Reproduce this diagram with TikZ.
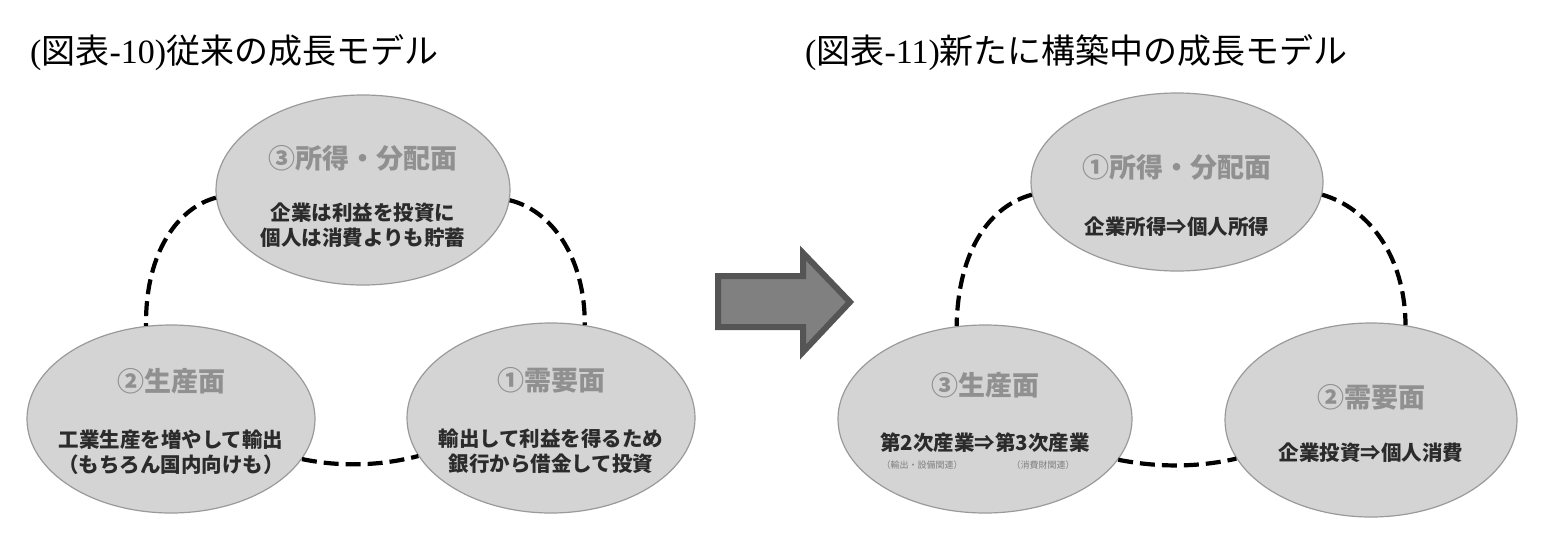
\documentclass[tikz,border=0pt]{standalone}
\usepackage{fontspec}
\setmainfont{Liberation Serif}
\newfontfamily\cjk{Noto Sans CJK JP}
\usetikzlibrary{shapes.geometric}
\definecolor{ellfill}{HTML}{D4D4D4}
\definecolor{elldraw}{HTML}{9A9A9A}
\definecolor{headtxt}{HTML}{909090}
\definecolor{bodytxt}{HTML}{2B2B2B}
\definecolor{arrfill}{HTML}{808080}
\definecolor{arrdraw}{HTML}{555555}
\tikzset{
  bubble/.style={ellipse, fill=ellfill, draw=elldraw, line width=1.2pt, inner sep=0pt},
  headtext/.style={inner sep=0pt, text=headtxt, font=\cjk\bfseries\fontsize{27}{30}\selectfont},
  bodytext/.style={inner sep=0pt, text=bodytxt, align=center, font=\cjk\bfseries\fontsize{20.5}{24.5}\selectfont},
  smalltext/.style={inner sep=0pt, text=gray, font=\cjk\fontsize{9}{10}\selectfont},
  titletext/.style={inner sep=0pt, anchor=west, font=\fontsize{34}{38}\selectfont},
  link/.style={line width=4.2pt, dash pattern=on 15pt off 7pt, black},
}
\begin{document}
\begin{tikzpicture}[x=1pt,y=-1pt]
\useasboundingbox (0,0) rectangle (1542,549);
\fill[white] (0,0) rectangle (1542,549);

% titles
\node[titletext] (title1) at (30,53) {\rmfamily(\cjk 図表\rmfamily-10)\cjk 従来の成長モデル};
\node[titletext] (title2) at (805,53) {\rmfamily(\cjk 図表\rmfamily-11)\cjk 新たに構築中の成長モデル};

% left diagram
\node[bubble, minimum width=294pt, minimum height=190pt] (T) at (363,190) {};
\node[bubble, minimum width=288pt, minimum height=188pt] (L) at (171,419) {};
\node[bubble, minimum width=288pt, minimum height=190pt] (R) at (551,418) {};

\node[headtext] (Th) at (363,158) {③所得・分配面};
\node[bodytext] (Tb) at (363,225) {企業は利益を投資に\\個人は消費よりも貯蓄};
\node[headtext] (Lh) at (171,381) {②生産面};
\node[bodytext] (Lb) at (171,452) {工業生産を増やして輸出\\（もちろん国内向けも）};
\node[headtext] (Rh) at (551,380) {①需要面};
\node[bodytext] (Rb) at (551,451) {輸出して利益を得るため\\銀行から借金して投資};

\draw[link] (T.183) .. controls (180,207) and (145,250) .. (L.105);
\draw[link] (T.356) .. controls (550,210) and (585,255) .. (R.70);
\draw[link] (L.-17) .. controls (340,467) and (380,466) .. (R.196);

% big arrow
\node[inner sep=0pt] (arr) at (785,302) {};
\draw[fill=arrfill, draw=arrdraw, line width=6pt, line join=miter]
  (718,276) -- (803,276) -- (803,253) -- (850,302) -- (803,352) -- (803,327) -- (718,327) -- cycle;

% right diagram
\node[bubble, minimum width=292pt, minimum height=178pt] (T2) at (1177,182) {};
\node[bubble, minimum width=294pt, minimum height=188pt] (L2) at (985,419) {};
\node[bubble, minimum width=292pt, minimum height=194pt] (R2) at (1371,420) {};

\node[headtext] (T2h) at (1177,167) {①所得・分配面};
\node[bodytext] (T2b) at (1177,227) {企業所得⇒個人所得};
\node[headtext] (L2h) at (985,385) {③生産面};
\node[bodytext] (L2b) at (985,443) {第2次産業⇒第3次産業};
\node[smalltext] (L2s1) at (922,465) {（輸出・設備関連）};
\node[smalltext] (L2s2) at (1043,465) {（消費財関連）};
\node[headtext] (R2h) at (1371,397) {②需要面};
\node[bodytext] (R2b) at (1371,453) {企業投資⇒個人消費};

\draw[link] (T2.185) .. controls (990,206) and (958,250) .. (L2.107);
\draw[link] (T2.355) .. controls (1368,208) and (1405,255) .. (R2.70);
\draw[link] (L2.-17) .. controls (1160,468) and (1200,467) .. (R2.196);
\end{tikzpicture}
\end{document}
